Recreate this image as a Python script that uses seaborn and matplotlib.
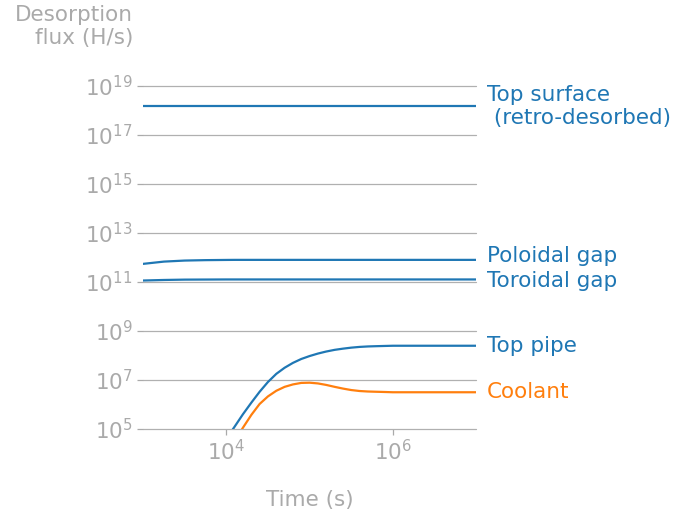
import numpy as np
import pandas as pd
import seaborn as sns
import matplotlib.pyplot as plt

# time points (s)
time = [1e3, 1.78e3, 3.16e3, 5.62e3, 1e4, 1.26e4, 1.58e4, 2e4, 2.51e4, 3.16e4, 3.98e4, 5.01e4,
        6.31e4, 7.94e4, 1e5, 1.26e5, 1.58e5, 2e5, 2.51e5, 3.16e5, 3.98e5, 5.01e5,
        6.31e5, 7.94e5, 1e6, 3.16e6, 1e7]

# desorption flux (H/s)
top_surface = [1.5e18] * 27
poloidal_gap = [5.5e11, 6.8e11, 7.5e11, 7.8e11, 7.95e11] + [8e11] * 22
toroidal_gap = [1.15e11, 1.21e11, 1.25e11, 1.26e11, 1.27e11] + [1.27e11] * 22
top_pipe = [1e1, 1e2, 1e3, 5e3, 3.98e4, 1.26e5, 3.98e5, 1.2e6, 3.31e6, 8.3e6, 1.78e7, 3.16e7,
            5e7, 7.2e7, 9.5e7, 1.2e8, 1.45e8, 1.7e8, 1.9e8, 2.09e8, 2.24e8, 2.34e8,
            2.4e8, 2.45e8, 2.5e8, 2.5e8, 2.5e8]
coolant = [3, 20, 1e2, 8e2, 6.3e3, 3.16e4, 1.12e5, 3.8e5, 1.05e6, 2.14e6, 3.63e6, 5.25e6,
           6.6e6, 7.6e6, 7.76e6, 7.24e6, 6.3e6, 5.25e6, 4.47e6, 3.89e6, 3.55e6, 3.39e6,
           3.31e6, 3.24e6, 3.16e6, 3.16e6, 3.16e6]

series = {
    "Top surface\n (retro-desorbed)": top_surface,
    "Poloidal gap": poloidal_gap,
    "Toroidal gap": toroidal_gap,
    "Top pipe": top_pipe,
    "Coolant": coolant,
}
colours = {
    "Top surface\n (retro-desorbed)": "#1f77b4",
    "Poloidal gap": "#1f77b4",
    "Toroidal gap": "#1f77b4",
    "Top pipe": "#1f77b4",
    "Coolant": "#ff7f0e",
}
label_nudge = {"Poloidal gap": 3, "Toroidal gap": -1}

y_ticks = [1e5, 1e7, 1e9, 1e11, 1e13, 1e15, 1e17, 1e19]
x_ticks = [1e4, 1e6]

df = pd.DataFrame([
    {"time": t, "flux": f, "surface": name}
    for name, vals in series.items() for t, f in zip(time, vals)
])

sns.set_style("white")
plt.rcParams["font.family"] = ["DejaVu Sans"]
grey = "#aaaaaa"
fs = 15.5

fig = plt.figure(figsize=(6.88, 5.15), dpi=100)
ax = fig.add_axes([0.208, 0.167, 0.484, 0.666])

sns.lineplot(data=df, x="time", y="flux", hue="surface", palette=colours,
             linewidth=1.6, legend=False, ax=ax)

ax.set_xscale("log")
ax.set_yscale("log")
ax.set_xlim(1e3, 1e7)
ax.set_ylim(1e5, 1e19)
ax.set_yticks(y_ticks)
ax.set_xticks(x_ticks)
ax.minorticks_off()
ax.grid(axis="y", color="#b0b0b0", linewidth=0.9)
ax.set_axisbelow(True)
for gl in ax.yaxis.get_gridlines():
    gl.set_clip_on(False)
for s in ax.spines.values():
    s.set_visible(False)
ax.tick_params(axis="both", colors=grey, labelsize=fs, length=4, width=0.9,
               left=True, bottom=True, labelcolor=grey)

ax.set_xlabel("Time (s)", fontsize=fs, color=grey, labelpad=18)
ax.set_ylabel("Desorption\nflux (H/s)", fontsize=fs, color=grey, rotation=0,
              ha="right", va="bottom", multialignment="right")
ax.yaxis.set_label_coords(-0.03, 1.11)

for name, vals in series.items():
    ax.annotate(name, xy=(time[-1], vals[-1]), xytext=(8, label_nudge.get(name, 0)),
                textcoords="offset points", va="center", ha="left",
                color=colours[name], fontsize=fs, annotation_clip=False)

fig.savefig("out.png", dpi=100)
